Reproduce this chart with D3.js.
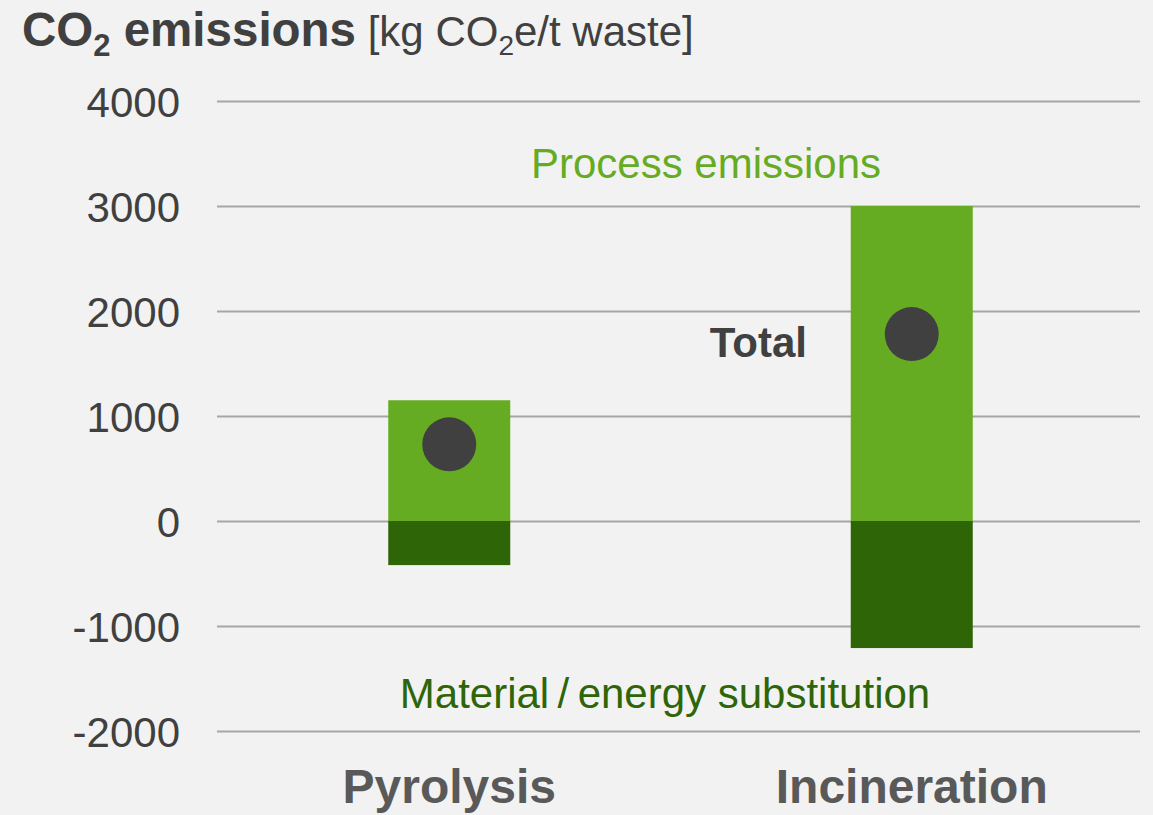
<!DOCTYPE html>
<html>
<head>
<meta charset="utf-8">
<script src="https://cdn.jsdelivr.net/npm/d3@7"></script>
<style>
  html, body { margin: 0; padding: 0; background: #f2f2f2; }
  svg { display: block; font-family: "Liberation Sans", Arial, sans-serif; }
</style>
</head>
<body>
<div id="chart"></div>
<script>
const categories = ["Pyrolysis", "Incineration"];
const processEmissions = [1150, 3000];
const substitution = [-420, -1210];
const totals = [730, 1780];
const yTicks = [4000, 3000, 2000, 1000, 0, -1000, -2000];

const width = 1153, height = 815;
const margin = { top: 101, right: 13, bottom: 84, left: 217 };
const plotW = width - margin.left - margin.right;

const svg = d3.select("#chart")
  .append("svg")
  .attr("width", width)
  .attr("height", height);

svg.append("rect")
  .attr("width", width)
  .attr("height", height)
  .attr("fill", "#f2f2f2");

const x = d3.scalePoint()
  .domain(categories)
  .range([margin.left + 1, margin.left + plotW + 3])
  .padding(0.5);

const y = d3.scaleLinear()
  .domain([-2000, 4000])
  .range([height - margin.bottom, margin.top]);

const barW = 122;

// gridlines + tick labels
const yAxis = svg.append("g")
  .attr("transform", `translate(${margin.left},0)`)
  .call(d3.axisLeft(y)
    .tickValues(yTicks)
    .tickSize(-plotW)
    .tickPadding(37)
    .tickFormat(d => String(d)));
yAxis.select(".domain").remove();
yAxis.selectAll(".tick line")
  .attr("stroke", "#a6a6a6")
  .attr("stroke-width", 2);
yAxis.selectAll(".tick text")
  .attr("fill", "#404040")
  .attr("font-size", 42)
  .attr("font-family", "Liberation Sans, Arial, sans-serif")
  .attr("dy", "0.36em");

const rows = categories.map((c, i) => ({
  cat: c, pos: processEmissions[i], neg: substitution[i], total: totals[i]
}));

// positive part: process emissions
svg.selectAll(".bar-pos")
  .data(rows)
  .enter()
  .append("rect")
  .attr("class", "bar-pos")
  .attr("x", d => x(d.cat) - barW / 2)
  .attr("width", barW)
  .attr("y", d => y(d.pos))
  .attr("height", d => y(0) - y(d.pos))
  .attr("fill", "#66ac22");

// negative part: substitution credit
svg.selectAll(".bar-neg")
  .data(rows)
  .enter()
  .append("rect")
  .attr("class", "bar-neg")
  .attr("x", d => x(d.cat) - barW / 2)
  .attr("width", barW)
  .attr("y", y(0))
  .attr("height", d => y(d.neg) - y(0))
  .attr("fill", "#2e6507");

// net total dots
svg.selectAll(".dot")
  .data(rows)
  .enter()
  .append("circle")
  .attr("class", "dot")
  .attr("cx", d => x(d.cat))
  .attr("cy", d => y(d.total))
  .attr("r", 27)
  .attr("fill", "#404040");

// category labels
svg.selectAll(".cat")
  .data(categories)
  .enter()
  .append("text")
  .attr("class", "cat")
  .attr("x", d => x(d))
  .attr("y", 803)
  .attr("text-anchor", "middle")
  .attr("font-size", 48)
  .attr("font-weight", "bold")
  .attr("fill", "#595959")
  .text(d => d);

// annotations
svg.append("text")
  .attr("x", 706)
  .attr("y", 178)
  .attr("text-anchor", "middle")
  .attr("font-size", 42)
  .attr("fill", "#66ac22")
  .text("Process emissions");

svg.append("text")
  .attr("x", 807)
  .attr("y", 357)
  .attr("text-anchor", "end")
  .attr("font-size", 42)
  .attr("font-weight", "bold")
  .attr("fill", "#404040")
  .text("Total");

svg.append("text")
  .attr("x", 665)
  .attr("y", 708)
  .attr("text-anchor", "middle")
  .attr("font-size", 42)
  .attr("fill", "#2e6507")
  .text("Material\u2009/\u2009energy substitution");

// title
const title = svg.append("text")
  .attr("x", 22)
  .attr("y", 46)
  .attr("font-size", 47.5)
  .attr("fill", "#404040");
title.append("tspan").attr("font-weight", "bold").text("CO");
title.append("tspan").attr("font-weight", "bold").attr("font-size", 31).attr("dy", 10).text("2");
title.append("tspan").attr("font-weight", "bold").attr("dy", -10).text(" emissions");
title.append("tspan").attr("font-size", 42).text(" [kg CO");
title.append("tspan").attr("font-size", 28).attr("dy", 9).text("2");
title.append("tspan").attr("font-size", 42).attr("dy", -9).text("e/t waste]");
</script>
</body>
</html>
